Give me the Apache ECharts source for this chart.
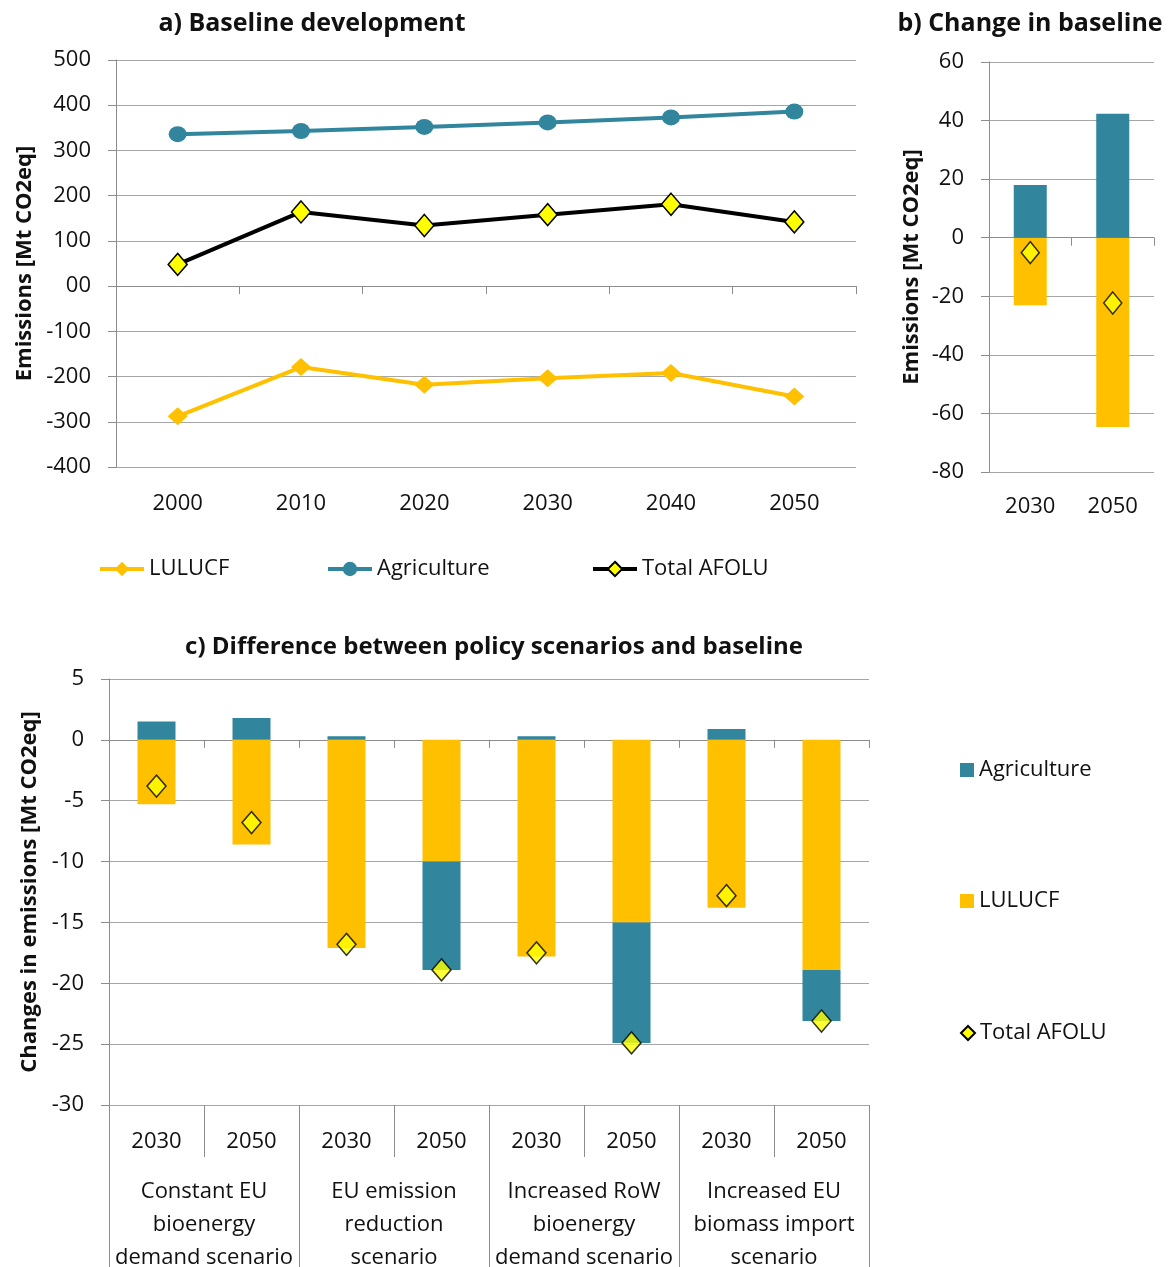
<!DOCTYPE html>
<html>
<head>
<meta charset="utf-8">
<script src="https://cdn.jsdelivr.net/npm/echarts@6/dist/echarts.min.js"></script>
<style>
  html, body { margin: 0; padding: 0; background: #ffffff; }
  #chart { width: 1174px; height: 1267px; }
</style>
</head>
<body>
<div id="chart"></div>
<script>
// a) Baseline development, Mt CO2eq
const baselineYears = ['2000', '2010', '2020', '2030', '2040', '2050'];
const baselineLulucf = [-288, -179, -218, -204, -192, -244];
const baselineAgriculture = [336, 343, 352, 362, 373, 386];
const baselineTotal = [48, 164, 134, 158, 181, 142];
const baselineTicks = [-400, -300, -200, -100, 0, 100, 200, 300, 400, 500];

// b) Change in baseline, Mt CO2eq
const changeYears = ['2030', '2050'];
const changeAgriculture = [18, 42.3];
const changeLulucf = [-23.1, -64.6];
const changeTotal = [-5.1, -22.3];
const changeTicks = [-80, -60, -40, -20, 0, 20, 40, 60];

// c) Difference between policy scenarios and baseline, Mt CO2eq
const scenarioYears = ['2030', '2050', '2030', '2050', '2030', '2050', '2030', '2050'];
const scenarioNames = [
  'Constant EU\nbioenergy\ndemand scenario',
  'EU emission\nreduction\nscenario',
  'Increased RoW\nbioenergy\ndemand scenario',
  'Increased EU\nbiomass import\nscenario'
];
const scenarioAgriculture = [1.5, 1.8, 0.3, -8.9, 0.3, -9.9, 0.9, -4.2];
const scenarioLulucf = [-5.3, -8.6, -17.1, -10.0, -17.8, -15.0, -13.8, -18.9];
const scenarioTotal = [-3.8, -6.8, -16.8, -18.9, -17.5, -24.9, -12.8, -23.1];
const scenarioTicks = [-30, -25, -20, -15, -10, -5, 0, 5];

const AGRI = '#31859C';
const LUL = '#FFC000';
const TOT = '#FFFF00';
const GRID_LINE = '#a6a6a6';
const AXIS_LINE = '#8c8c8c';
const TEXT = '#111111';
const FONT = '"Open Sans", "Noto Sans", sans-serif';

const tickRange = t => ({ min: t[0], max: t[t.length - 1], interval: t[1] - t[0] });

function valueAxis(gridIndex, ticks, name, nameGap, formatter) {
  return Object.assign({
    type: 'value', gridIndex,
    name, nameLocation: 'middle', nameRotate: 90, nameGap,
    nameTextStyle: { fontFamily: FONT, fontSize: 22, fontWeight: 'bold', color: TEXT },
    axisLine: { show: true, lineStyle: { color: AXIS_LINE, width: 1 } },
    axisTick: { show: true, length: 8, lineStyle: { color: AXIS_LINE } },
    axisLabel: { fontFamily: FONT, fontSize: 22, color: TEXT, margin: 25, formatter },
    splitLine: { show: true, lineStyle: { color: GRID_LINE, width: 1 } }
  }, tickRange(ticks));
}

function labelAxis(gridIndex, data, margin, extra) {
  return Object.assign({
    type: 'category', gridIndex, data, position: 'bottom',
    axisLine: { show: false, onZero: false },
    axisTick: { show: false },
    axisLabel: { fontFamily: FONT, fontSize: 22, color: TEXT, margin, lineHeight: 26, interval: 0 }
  }, extra || {});
}

function zeroAxis(gridIndex, data) {
  return {
    type: 'category', gridIndex, data, position: 'bottom',
    axisLine: { show: true, onZero: true, lineStyle: { color: AXIS_LINE, width: 1 } },
    axisTick: { show: true, length: 8, interval: 0, lineStyle: { color: AXIS_LINE } },
    axisLabel: { show: false }
  };
}

const diamondStyle = { color: TOT, borderColor: '#000000', borderWidth: 1.5 };

function titleAt(text, x, y, size) {
  return {
    text, left: x, top: y, textAlign: 'center', padding: 0,
    textStyle: { fontFamily: FONT, fontSize: size, fontWeight: 'bold', color: TEXT, lineHeight: 30 }
  };
}

function legendAt(name, x, y, w, h, icon) {
  const item = icon ? { name, icon } : { name };
  const legend = {
    data: [item], left: x, top: y, padding: 0, orient: 'horizontal',
    itemWidth: w, itemHeight: h, selectedMode: false,
    textStyle: { fontFamily: FONT, fontSize: 22, color: TEXT, lineHeight: 26 }
  };
  if (!icon) legend.lineStyle = { width: 4 };
  return legend;
}

const option = {
  animation: false,
  backgroundColor: '#ffffff',
  title: [
    titleAt('a) Baseline development', 312, 9, 25),
    titleAt('b) Change in baseline', 1030, 9, 25),
    titleAt('c) Difference between policy scenarios and baseline', 494, 632, 24)
  ],
  legend: [
    legendAt('LULUCF', 98, 556, 44, 18),
    legendAt('Agriculture', 326, 556, 44, 18),
    legendAt('Total AFOLU', 591, 556, 44, 18),
    legendAt('Agriculture', 960, 757, 14, 14, 'rect'),
    legendAt('LULUCF', 960, 888, 14, 14, 'rect'),
    legendAt('Total AFOLU', 960, 1020, 14, 14, 'diamond')
  ],
  grid: [
    { left: 116, top: 60, width: 740, height: 407, outerBoundsMode: 'none' },
    { left: 989, top: 62, width: 165, height: 410, outerBoundsMode: 'none' },
    { left: 109, top: 679, width: 760, height: 426, outerBoundsMode: 'none' }
  ],
  xAxis: [
    labelAxis(0, baselineYears, 24),
    zeroAxis(0, baselineYears),
    labelAxis(1, changeYears, 22),
    zeroAxis(1, changeYears),
    labelAxis(2, scenarioYears, 24, {
      axisTick: { show: true, length: 52, interval: 0, lineStyle: { color: AXIS_LINE } }
    }),
    {
      type: 'category', gridIndex: 2, data: scenarioNames, position: 'bottom',
      axisLine: { show: false, onZero: false },
      axisTick: { show: true, length: 162, interval: 0, lineStyle: { color: AXIS_LINE } },
      axisLabel: { fontFamily: FONT, fontSize: 22, color: TEXT, margin: 70, lineHeight: 33, interval: 0 }
    },
    zeroAxis(2, scenarioYears)
  ],
  yAxis: [
    valueAxis(0, baselineTicks, 'Emissions [Mt CO2eq]', 80, v => (v === 0 ? '00' : String(v))),
    valueAxis(1, changeTicks, 'Emissions [Mt CO2eq]', 66),
    valueAxis(2, scenarioTicks, 'Changes in emissions [Mt CO2eq]', 68)
  ],
  series: [
    // a) lines
    {
      name: 'LULUCF', type: 'line', xAxisIndex: 0, yAxisIndex: 0, data: baselineLulucf,
      symbol: 'diamond', symbolSize: [20, 18],
      lineStyle: { color: LUL, width: 4 }, itemStyle: { color: LUL }, z: 3
    },
    {
      name: 'Agriculture', type: 'line', xAxisIndex: 0, yAxisIndex: 0, data: baselineAgriculture,
      symbol: 'circle', symbolSize: [18, 16],
      lineStyle: { color: AGRI, width: 4 }, itemStyle: { color: AGRI }, z: 3
    },
    {
      name: 'Total AFOLU', type: 'line', xAxisIndex: 0, yAxisIndex: 0, data: baselineTotal,
      symbol: 'diamond', symbolSize: [19, 22],
      lineStyle: { color: '#000000', width: 4 }, itemStyle: diamondStyle, z: 3
    },
    // b) stacked change bars
    {
      name: 'LULUCF', type: 'bar', xAxisIndex: 2, yAxisIndex: 1, stack: 'change',
      data: changeLulucf, barWidth: '40%', itemStyle: { color: LUL }
    },
    {
      name: 'Agriculture', type: 'bar', xAxisIndex: 2, yAxisIndex: 1, stack: 'change',
      data: changeAgriculture, barWidth: '40%', itemStyle: { color: AGRI }
    },
    {
      name: 'Total AFOLU', type: 'scatter', xAxisIndex: 2, yAxisIndex: 1, data: changeTotal,
      symbol: 'diamond', symbolSize: [18, 22], itemStyle: diamondStyle, z: 5
    },
    // c) stacked scenario bars
    {
      name: 'LULUCF', type: 'bar', xAxisIndex: 4, yAxisIndex: 2, stack: 'scenario',
      data: scenarioLulucf, barWidth: '40%', itemStyle: { color: LUL }
    },
    {
      name: 'Agriculture', type: 'bar', xAxisIndex: 4, yAxisIndex: 2, stack: 'scenario',
      data: scenarioAgriculture, barWidth: '40%', itemStyle: { color: AGRI }
    },
    {
      name: 'Total AFOLU', type: 'scatter', xAxisIndex: 4, yAxisIndex: 2, data: scenarioTotal,
      symbol: 'diamond', symbolSize: [19, 22], itemStyle: diamondStyle, z: 5
    }
  ]
};

const chart = echarts.init(document.getElementById('chart'), null, { renderer: 'canvas' });
chart.setOption(option);
</script>
</body>
</html>
